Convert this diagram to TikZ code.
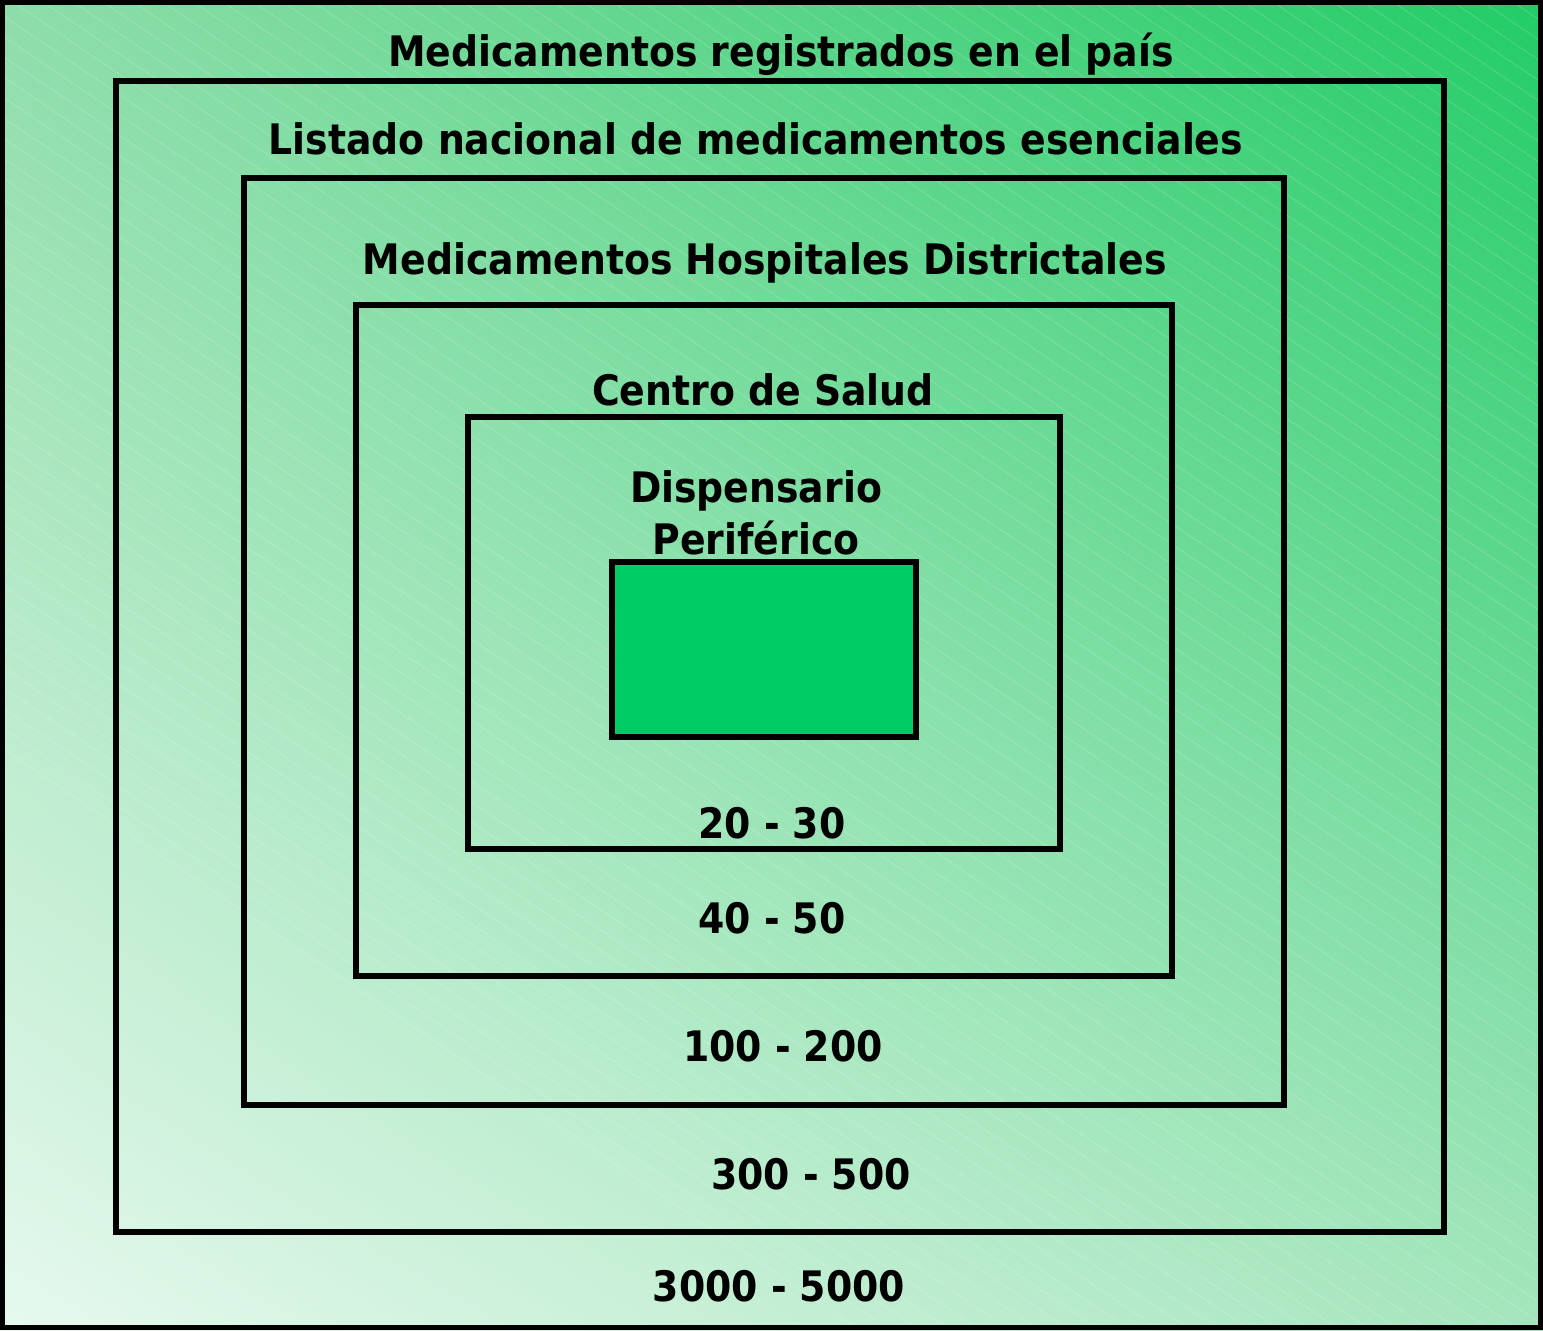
\documentclass[tikz,border=0pt]{standalone}
\usepackage{fontspec}
\setmainfont{DejaVu Sans Condensed}
\usetikzlibrary{positioning,calc,shadings}
\definecolor{DeepGreen}{HTML}{22CC66}
\definecolor{PaleGreen}{HTML}{E6F9EE}
\definecolor{CornerGreen}{HTML}{8EDDA9}
\definecolor{EdgeGreen}{HTML}{A5E5BD}
\definecolor{CoreGreen}{HTML}{00CC66}

\begin{document}
\begin{tikzpicture}[
				x=0.5pt,y=-0.5pt,
				every node/.style={align=center,font=\bfseries\fontsize{21}{26}\selectfont,inner sep=0pt},
				box/.style={draw=black,line width=2.9pt},
			]

			% fondo
			\useasboundingbox (0,0) rectangle (1543,1330);
			\shade[lower left=PaleGreen,upper right=DeepGreen,upper left=CornerGreen,lower right=EdgeGreen] (0,0) rectangle (1543,1330);
			\begin{scope}
				\clip (0,0) rectangle (1543,1330);
				\foreach \s in {-1100,-1070,...,1560}
					\draw[white,opacity=0.18,line width=0.4pt] (\s,0) -- ++(1960,1330);
			\end{scope}
			\draw[line width=2.6pt] (2.5,2.5) rectangle (1540.5,1327.5);

			% cuadros
			\draw[box] (116,81) rectangle (1444,1232);
			\draw[box] (244,178) rectangle (1284,1105);
			\draw[box] (356,305) rectangle (1172,976);
			\draw[box] (468,417) rectangle (1060,849);
			\draw[box,fill=CoreGreen] (612,562) rectangle (916,737);

			% textos
			\node (pais) at (781,54) {Medicamentos registrados en el país};
			\node (nacional) at (756,139) {Listado nacional de medicamentos esenciales};
			\node (hospital) at (765,263) {Medicamentos Hospitales Districtales};
			\node (centro) at (763,390) {Centro de Salud};
			\node (dispensario) at (756,513) {Dispensario\\Periférico};
			\node (n1) at (772,823) {20 - 30};
			\node (n2) at (772,918) {40 - 50};
			\node (n3) at (783,1046) {100 - 200};
			\node (n4) at (811,1174) {300 - 500};
			\node (n5) at (779,1286) {3000 - 5000};
		\end{tikzpicture}
\end{document}
